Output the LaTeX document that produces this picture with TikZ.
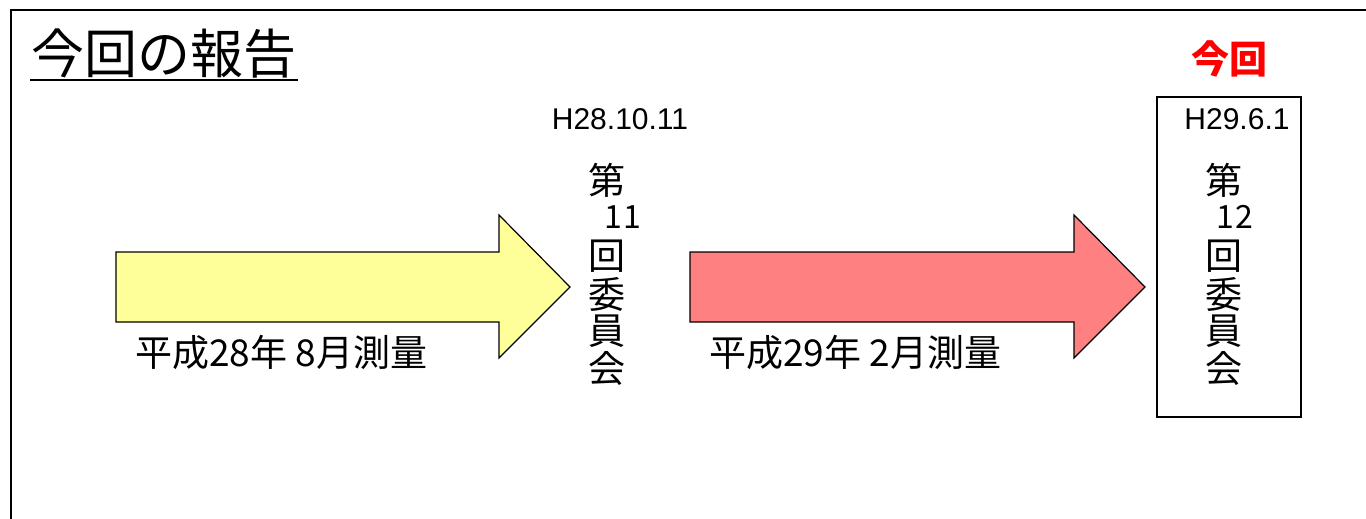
\documentclass[tikz,border=0pt]{standalone}
\usepackage{fontspec}
\setmainfont{Liberation Sans}
\newfontfamily\jp{Noto Sans CJK JP}
\definecolor{ylw}{HTML}{FFFF99}
\definecolor{pnk}{HTML}{FF8080}
\begin{document}
\begin{tikzpicture}[x=1pt,y=-1pt,
  arrowshape/.style={draw=black,line width=1.2pt,line join=miter},
  vchar/.style={font=\jp\fontsize{37}{37}\selectfont,inner sep=0pt,anchor=center},
  vnum/.style={font=\jp\fontsize{32}{32}\selectfont,inner sep=0pt,anchor=center},
  datelbl/.style={font=\fontsize{30}{30}\selectfont,inner sep=0pt,anchor=center},
  meas/.style={font=\jp\fontsize{37}{37}\selectfont,inner sep=0pt,anchor=west}]
\useasboundingbox (0,0) rectangle (1366,519);
\fill[white] (0,0) rectangle (1366,519);
% frame
\draw[line width=2.2pt] (11,519) -- (11,10) -- (1366,10);
% title
\node[font=\jp\fontsize{53}{53}\selectfont,inner sep=0pt,anchor=west] (title) at (31,54) {今回の報告};
\draw[line width=1.8pt] (30,80) -- (298,80);
% yellow arrow
\draw[arrowshape,fill=ylw] (116,252) -- (499,252) -- (499,215) -- (570,287) -- (499,358) -- (499,322) -- (116,322) -- cycle;
\node[meas] (m1) at (135,352) {平成28年 8月測量};
% red arrow
\draw[arrowshape,fill=pnk] (690,252) -- (1074,252) -- (1074,215) -- (1145,287) -- (1074,358) -- (1074,322) -- (690,322) -- cycle;
\node[meas] (m2) at (709,352) {平成29年 2月測量};
% 11th committee
\node[datelbl] (d1) at (620,119) {H28.10.11};
\node[vchar] (a1) at (607,180) {第};
\node[vnum]  (a2) at (623,217) {1\kern2pt1};
\node[vchar] (a3) at (607,256) {回};
\node[vchar] (a4) at (607,294) {委};
\node[vchar] (a5) at (607,331) {員};
\node[vchar] (a6) at (607,369) {会};
% 12th committee
\node[font=\jp\bfseries\fontsize{38}{38}\selectfont,text=red,inner sep=0pt] (now) at (1229,59) {今回};
\node[draw=black,line width=1.6pt,minimum width=144pt,minimum height=320pt,inner sep=0pt] (box) at (1229,257) {};
\node[datelbl] (d2) at (1237,119) {H29.6.1};
\node[vchar] (b1) at (1224,180) {第};
\node[vnum]  (b2) at (1235,217) {1\kern2pt2};
\node[vchar] (b3) at (1224,256) {回};
\node[vchar] (b4) at (1224,294) {委};
\node[vchar] (b5) at (1224,331) {員};
\node[vchar] (b6) at (1224,369) {会};
\end{tikzpicture}
\end{document}
